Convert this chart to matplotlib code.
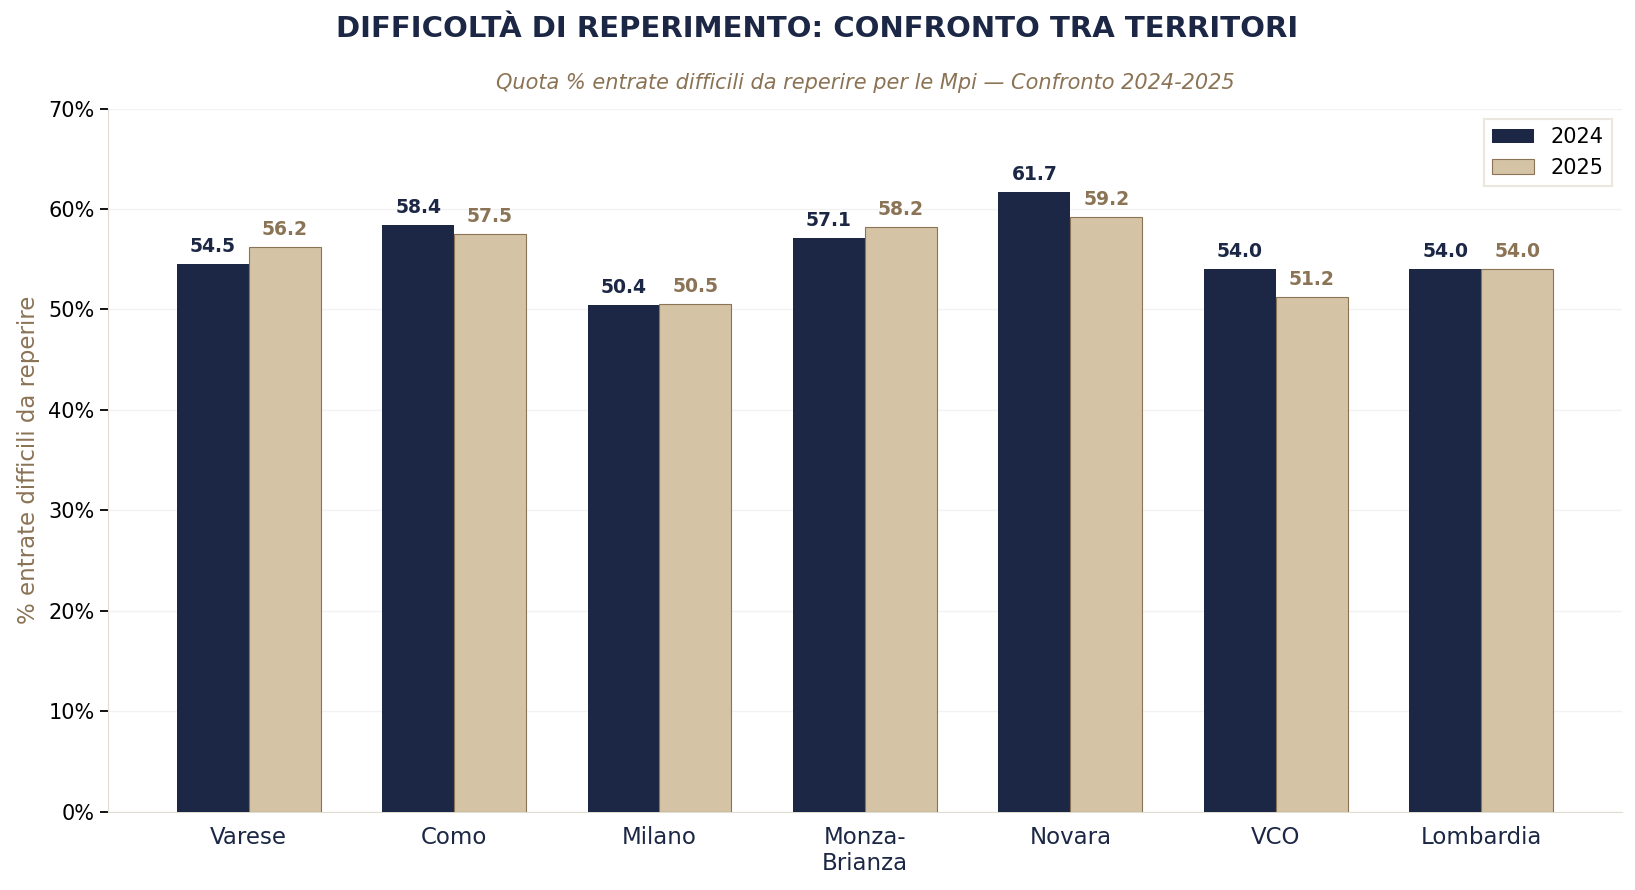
import matplotlib.pyplot as plt
import numpy as np

territori = ['Varese', 'Como', 'Milano', 'Monza-\nBrianza', 'Novara', 'VCO', 'Lombardia']
val_2024 = [54.5, 58.4, 50.4, 57.1, 61.7, 54.0, 54.0]
val_2025 = [56.2, 57.5, 50.5, 58.2, 59.2, 51.2, 54.0]

navy = '#1B2744'
beige = '#D4C4A5'
brown = '#8B7355'

fig = plt.figure(figsize=(16.35, 8.9), dpi=100)
ax = fig.add_axes([0.066, 0.088, 0.926, 0.79])

x = np.arange(len(territori))
w = 0.35
b1 = ax.bar(x - w/2, val_2024, w, color=navy, label='2024', zorder=3)
b2 = ax.bar(x + w/2, val_2025, w, color=beige, edgecolor=brown, linewidth=0.8,
            label='2025', zorder=3)

for r, v in zip(b1, val_2024):
    ax.text(r.get_x() + r.get_width()/2, v + 0.8, f'{v:.1f}', ha='center', va='bottom',
            fontsize=13.5, fontweight='bold', color=navy)
for r, v in zip(b2, val_2025):
    ax.text(r.get_x() + r.get_width()/2, v + 0.8, f'{v:.1f}', ha='center', va='bottom',
            fontsize=13.5, fontweight='bold', color=brown)

ax.set_ylim(0, 70)
ax.set_yticks(np.arange(0, 71, 10))
ax.set_yticklabels([f'{t}%' for t in range(0, 71, 10)], fontsize=15)
ax.set_xticks(x)
ax.set_xticklabels(territori, fontsize=16.5, color=navy)
ax.tick_params(axis='x', length=0, pad=10)
ax.tick_params(axis='y', length=6, width=1.3)
ax.set_ylabel('% entrate difficili da reperire', fontsize=16.5, color=brown, labelpad=6)

ax.grid(axis='y', color='#F2F2F2', linewidth=1, zorder=0)
ax.set_axisbelow(True)
for s in ['top', 'right']:
    ax.spines[s].set_visible(False)
for s in ['left', 'bottom']:
    ax.spines[s].set_color('#E0DCD4')

leg = ax.legend(loc='upper right', fontsize=15, frameon=True, fancybox=False)
leg.get_frame().set_edgecolor('#E6E2D8')
leg.get_frame().set_linewidth(1.5)

fig.suptitle('DIFFICOLTÀ DI REPERIMENTO: CONFRONTO TRA TERRITORI', fontsize=21,
             fontweight='bold', color=navy, y=0.983)
ax.set_title('Quota % entrate difficili da reperire per le Mpi — Confronto 2024-2025',
             fontsize=15, style='italic', color=brown, pad=14)

fig.savefig('out.png', dpi=100)
